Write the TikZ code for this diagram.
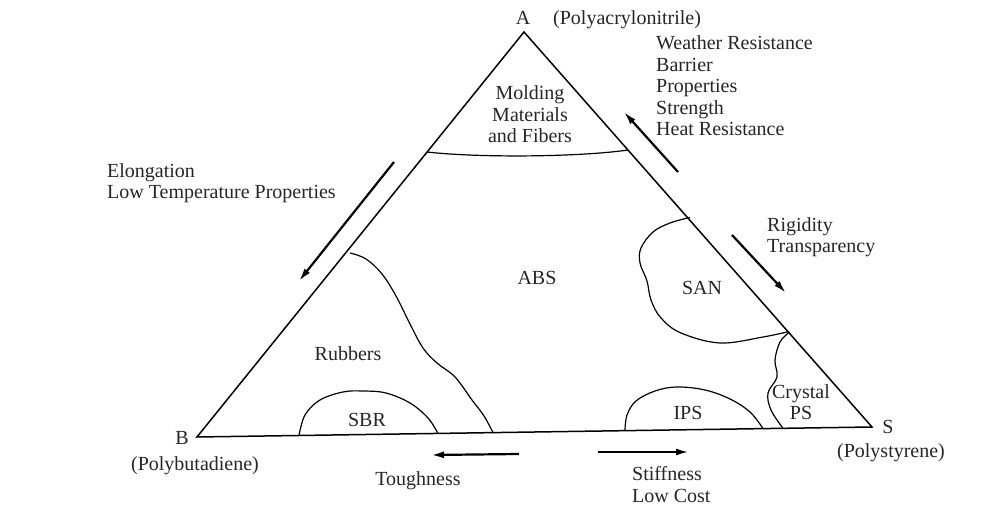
\documentclass[tikz,border=0pt]{standalone}
\usepackage{fontspec}
\setmainfont{Liberation Serif}
\usetikzlibrary{arrows.meta}
\begin{document}
\begin{tikzpicture}[x=1pt,y=-1pt,
  lbl/.style={inner sep=0pt, font=\fontsize{20}{21.5}\selectfont, text=black!85},
  edgeline/.style={line width=1.5pt},
  region/.style={line width=1.2pt},
  dirarrow/.style={line width=2.2pt, -{Latex[length=13pt,width=7pt]}}
]
\useasboundingbox (0,0) rectangle (988,510);
\fill[white] (0,0) rectangle (988,510);

% vertices
\coordinate (A) at (524,32);
\coordinate (B) at (197,437);
\coordinate (S) at (872,427);
\draw[edgeline, line join=miter] (A) -- (B) -- (S) -- cycle;

% vertex labels
\node[lbl, anchor=base] (la) at (523,25) {A};
\node[lbl, anchor=base west] (lpan) at (553,25) {(Polyacrylonitrile)};
\node[lbl, anchor=base] (lb) at (182,444) {B};
\node[lbl, anchor=base] (lpb) at (195,470) {(Polybutadiene)};
\node[lbl, anchor=base] (ls) at (888,433) {S};
\node[lbl, anchor=base] (lps) at (891,457) {(Polystyrene)};

% region boundaries
\draw[region] (427,152) .. controls (480,158) and (580,157) .. (628,150);
\draw[region] plot[smooth, tension=0.6] coordinates {(350,253) (366,259) (382,274) (396,296) (410,324) (423,348) (437,363) (455,377) (472,400) (484,416) (493,432.6)};
\draw[region] plot[smooth, tension=0.6] coordinates {(299,435.6) (305,415) (320,400) (343,392) (363,391) (386,393) (410,403) (428,418) (438,433.5)};
\draw[region] plot[smooth, tension=0.6] coordinates {(625,430.7) (627,415) (636,401) (655,391) (677,387) (705,390) (730,399) (750,412) (763,428.6)};
\draw[region] plot[smooth, tension=0.6] coordinates {(690,217.5) (670,223) (653,232) (641,248) (640,263) (647,281) (651,300) (661,318) (681,333) (720,343) (763,337) (789,331.5)};
\draw[region] plot[smooth, tension=0.6] coordinates {(789,332.5) (780,342) (775,360) (777,377) (768,393) (771,410) (783,428.3)};

% region labels (base anchor = last line)
\node[lbl, anchor=base, align=center] (molding) at (530,143) {Molding\\Materials\\and Fibers};
\node[lbl, anchor=base] (abs) at (537,285) {ABS};
\node[lbl, anchor=base] (san) at (702,295) {SAN};
\node[lbl, anchor=base] (rub) at (348,361) {Rubbers};
\node[lbl, anchor=base] (sbr) at (367,427) {SBR};
\node[lbl, anchor=base] (ips) at (688,420) {IPS};
\node[lbl, anchor=base, align=center] (cps) at (801,420) {Crystal\\PS};

% property labels
\node[lbl, anchor=base west, align=left] (propA) at (656,136) {Weather Resistance\\Barrier\\Properties\\Strength\\Heat Resistance};
\node[lbl, anchor=base west, align=left] (propB) at (107,199) {Elongation\\Low Temperature Properties};
\node[lbl, anchor=base west, align=left] (propR) at (767,253) {Rigidity\\Transparency};
\node[lbl, anchor=base] (tough) at (418,485) {Toughness};
\node[lbl, anchor=base west, align=left] (stiff) at (632,502) {Stiffness\\Low Cost};

% direction arrows
\coordinate (a1s) at (678,172); \coordinate (a1e) at (624,112);
\coordinate (a2s) at (394,162); \coordinate (a2e) at (299,281);
\coordinate (a3s) at (732,235); \coordinate (a3e) at (786,293);
\coordinate (a4s) at (519,454); \coordinate (a4e) at (431,455);
\coordinate (a5s) at (598,452); \coordinate (a5e) at (689,452);
\draw[dirarrow] (a1s) -- (a1e);
\draw[dirarrow] (a2s) -- (a2e);
\draw[dirarrow] (a3s) -- (a3e);
\draw[dirarrow] (a4s) -- (a4e);
\draw[dirarrow] (a5s) -- (a5e);
\end{tikzpicture}
\end{document}
